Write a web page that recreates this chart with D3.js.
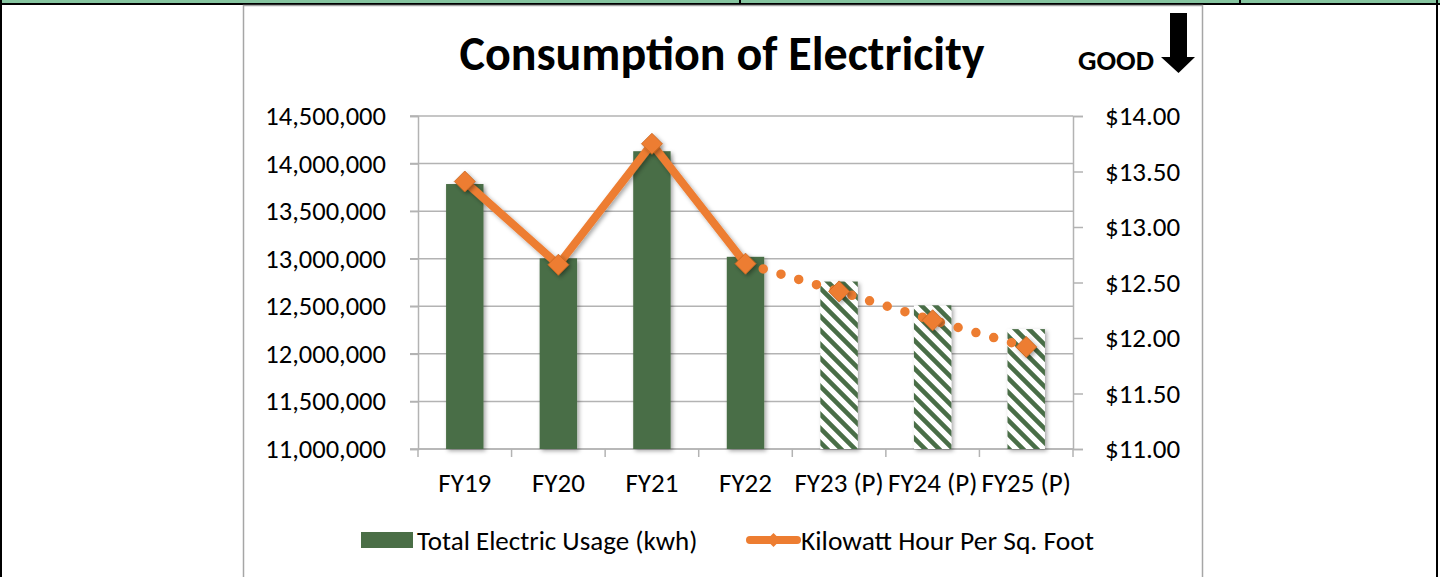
<!DOCTYPE html>
<html>
<head>
<meta charset="utf-8">
<script src="https://cdn.jsdelivr.net/npm/d3@7"></script>
<style>
  html, body { margin: 0; padding: 0; background: #fff; }
  svg { display: block; }
  text { font-family: Carlito, Calibri, Lato, sans-serif; fill: #000; }
</style>
</head>
<body>
<svg id="chart" width="1440" height="577"></svg>
<script>
// Fiscal years (P = projected)
const categories = ["FY19", "FY20", "FY21", "FY22", "FY23 (P)", "FY24 (P)", "FY25 (P)"];
const projected = [false, false, false, false, true, true, true];
// Total electric usage, kWh
const usageKwh = [13785000, 13004000, 14130000, 13020000, 12760000, 12510000, 12260000];
// Cost per square foot, dollars
const costPerSqFt = [13.41, 12.66, 13.75, 12.67, 12.42, 12.16, 11.92];
// Axis tick values
const leftTicks = [11000000, 11500000, 12000000, 12500000, 13000000, 13500000, 14000000, 14500000];
const rightTicks = [11, 11.5, 12, 12.5, 13, 13.5, 14];

const GREEN = "#4a6e46";
const ORANGE = "#ed7d31";
const GRID = "#b3b3b3";
const FONT = "Carlito, Calibri, Lato, sans-serif";

const svg = d3.select("#chart");
const defs = svg.append("defs");

// soft drop shadow used by bars and markers
const shadow = defs.append("filter").attr("id", "shadow")
  .attr("x", "-30%").attr("y", "-30%").attr("width", "160%").attr("height", "160%");
shadow.append("feDropShadow").attr("dx", 2).attr("dy", 2)
  .attr("stdDeviation", 2).attr("flood-color", "#000").attr("flood-opacity", 0.35);

// wide downward diagonal hatch for projected years
const pat = defs.append("pattern").attr("id", "hatch")
  .attr("patternUnits", "userSpaceOnUse").attr("width", 14).attr("height", 14);
pat.append("rect").attr("width", 14).attr("height", 14).attr("fill", "#fff");
pat.append("path")
  .attr("d", "M-7,7 L7,21 M0,0 L14,14 M7,-7 L21,7")
  .attr("stroke", GREEN).attr("stroke-width", 4.6).attr("fill", "none");

// ---- page frame: table borders around the chart ----
svg.append("rect").attr("x", 0).attr("y", 0).attr("width", 1440).attr("height", 3).attr("fill", "#86c5a0");
svg.append("rect").attr("x", 0).attr("y", 3).attr("width", 1440).attr("height", 2).attr("fill", "#000");
[739, 1239].forEach(x => svg.append("rect").attr("x", x).attr("y", 0).attr("width", 2).attr("height", 5).attr("fill", "#000"));
svg.append("rect").attr("x", 0).attr("y", 0).attr("width", 2).attr("height", 577).attr("fill", "#000");
svg.append("rect").attr("x", 1436).attr("y", 0).attr("width", 2).attr("height", 577).attr("fill", "#000");
// chart area border
svg.append("rect").attr("x", 243.5).attr("y", 5.5).attr("width", 959).attr("height", 580)
  .attr("fill", "#fff").attr("stroke", "#a6a6a6").attr("stroke-width", 1.5);

// ---- scales ----
const plotLeft = 418, plotRight = 1073, plotTop = 116, plotBottom = 449;
const x = d3.scaleBand().domain(categories).range([plotLeft, plotRight]).padding(0);
const yLeft = d3.scaleLinear().domain([11000000, 14500000]).range([plotBottom, plotTop]);
const yRight = d3.scaleLinear().domain([11, 14]).range([plotBottom, plotTop]);
const barW = x.bandwidth() / 2.5;

// ---- gridlines ----
svg.append("g").selectAll("line").data(leftTicks).join("line")
  .attr("x1", plotLeft - 8).attr("x2", plotRight)
  .attr("y1", d => yLeft(d)).attr("y2", d => yLeft(d))
  .attr("stroke", GRID).attr("stroke-width", 1.5);

// ---- axes ----
const fmt = d3.format(",");
const leftAxis = svg.append("g").attr("transform", `translate(${plotLeft},0)`)
  .call(d3.axisLeft(yLeft).tickValues(leftTicks).tickFormat(fmt).tickSize(8).tickPadding(24));
const rightAxis = svg.append("g").attr("transform", `translate(${plotRight},0)`)
  .call(d3.axisRight(yRight).tickValues(rightTicks).tickFormat(d => "$" + d.toFixed(2)).tickSize(10).tickPadding(22));
const bottomAxis = svg.append("g").attr("transform", `translate(0,${plotBottom})`)
  .call(d3.axisBottom(x).tickSize(0).tickPadding(24));
// category ticks sit on band boundaries
svg.append("g").selectAll("line")
  .data(d3.range(categories.length + 1))
  .join("line")
  .attr("x1", i => plotLeft + i * x.step()).attr("x2", i => plotLeft + i * x.step())
  .attr("y1", plotBottom).attr("y2", plotBottom + 8)
  .attr("stroke", GRID).attr("stroke-width", 1.5);

[leftAxis, rightAxis, bottomAxis].forEach(g => {
  g.select(".domain").attr("stroke", GRID).attr("stroke-width", 1.5);
  g.selectAll(".tick line").attr("stroke", GRID).attr("stroke-width", 1.5);
  g.selectAll("text").attr("font-family", FONT).attr("fill", "#000");
});
leftAxis.selectAll("text").attr("font-size", 26.5);
rightAxis.selectAll("text").attr("font-size", 27);
bottomAxis.selectAll("text").attr("font-size", 27);
bottomAxis.select(".domain").attr("d", `M${plotLeft},0H${plotRight}`);

// ---- bars ----
svg.append("g").selectAll("rect").data(categories).join("rect")
  .attr("x", (d) => x(d) + (x.bandwidth() - barW) / 2)
  .attr("width", barW)
  .attr("y", (d, i) => yLeft(usageKwh[i]))
  .attr("height", (d, i) => plotBottom - yLeft(usageKwh[i]))
  .attr("fill", (d, i) => projected[i] ? "url(#hatch)" : GREEN)
  .attr("filter", "url(#shadow)");

// ---- cost line: solid for actuals, dotted for projections ----
const pts = categories.map((c, i) => [x(c) + x.bandwidth() / 2, yRight(costPerSqFt[i])]);
const lineGen = d3.line();
const lastActual = projected.indexOf(true) - 1;
svg.append("path").attr("d", lineGen(pts.slice(lastActual)))
  .attr("fill", "none").attr("stroke", ORANGE).attr("stroke-width", 9.5)
  .attr("stroke-linecap", "round").attr("stroke-dasharray", "0 18.5");
svg.append("path").attr("d", lineGen(pts.slice(0, lastActual + 1)))
  .attr("fill", "none").attr("stroke", ORANGE).attr("stroke-width", 8)
  .attr("stroke-linejoin", "miter").attr("filter", "url(#shadow)");

const diamond = r => `M0,${-r}L${r},0L0,${r}L${-r},0Z`;
svg.append("g").selectAll("path").data(pts).join("path")
  .attr("transform", d => `translate(${d[0]},${d[1]})`)
  .attr("d", diamond(10.5))
  .attr("fill", ORANGE).attr("stroke", "#c8661f").attr("stroke-width", 0.8)
  .attr("filter", "url(#shadow)");

// ---- title and "good" indicator ----
svg.append("text").attr("x", 722).attr("y", 70).attr("text-anchor", "middle")
  .attr("font-size", 48).attr("font-weight", "bold").text("Consumption of Electricity");
svg.append("text").attr("x", 1154).attr("y", 70).attr("text-anchor", "end")
  .attr("font-size", 29).attr("font-weight", "bold").text("GOOD");
svg.append("path")
  .attr("d", "M1170,13H1187V57H1195L1178.5,73L1161,57H1170Z")
  .attr("fill", "#000");

// ---- legend ----
const legY = 540;
svg.append("rect").attr("x", 361).attr("y", legY - 8).attr("width", 52).attr("height", 16).attr("fill", GREEN);
svg.append("text").attr("x", 417).attr("y", legY + 10).attr("font-size", 27).text("Total Electric Usage (kwh)");
svg.append("line").attr("x1", 750).attr("x2", 797).attr("y1", legY).attr("y2", legY)
  .attr("stroke", ORANGE).attr("stroke-width", 8).attr("stroke-linecap", "round");
svg.append("path").attr("transform", `translate(773.5,${legY})`).attr("d", diamond(7)).attr("fill", ORANGE);
svg.append("text").attr("x", 801).attr("y", legY + 10).attr("font-size", 27.5).text("Kilowatt Hour Per Sq. Foot");
</script>
</body>
</html>
